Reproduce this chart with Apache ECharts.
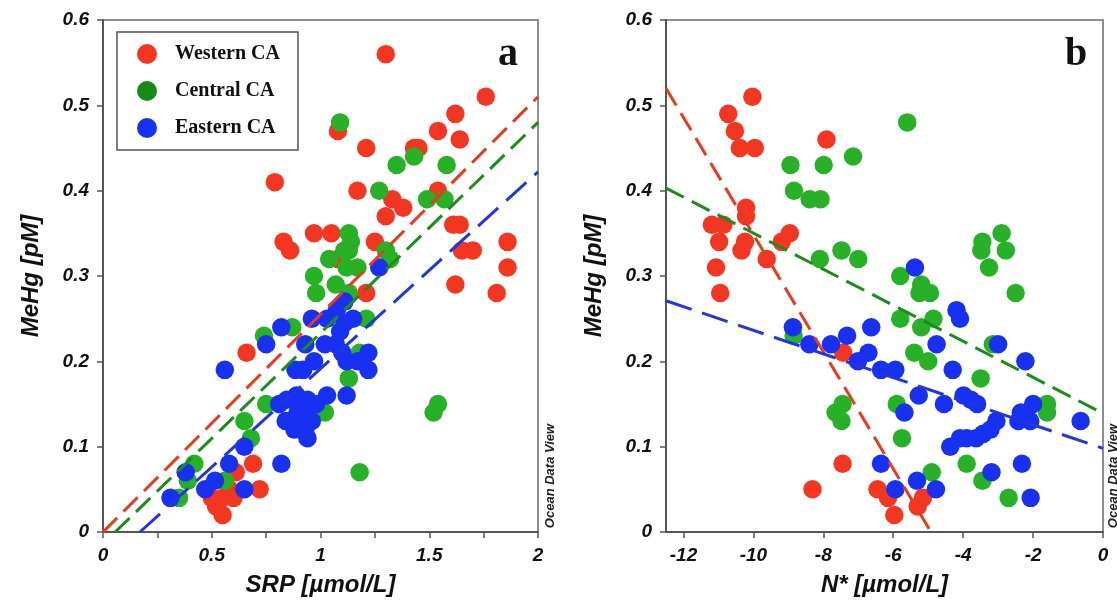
<!DOCTYPE html>
<html>
<head>
<meta charset="utf-8">
<script src="https://cdn.jsdelivr.net/npm/echarts@6/dist/echarts.min.js"></script>
<style>
  body { margin: 0; background: #fff; }
  #chart { width: 1117px; height: 602px; }
</style>
</head>
<body>
<div id="chart"></div>
<script>
// panel a: SRP vs MeHg
const westA = [[1.30,0.56],[1.76,0.51],[1.62,0.49],[1.54,0.47],[1.64,0.46],[1.21,0.45],[1.43,0.45],[1.45,0.45],
  [1.08,0.47],[0.79,0.41],[1.17,0.40],[1.54,0.40],[1.33,0.39],[1.38,0.38],[1.30,0.37],[1.61,0.36],[1.64,0.36],
  [0.97,0.35],[1.05,0.35],[0.83,0.34],[0.86,0.33],[1.25,0.34],[1.86,0.34],[1.65,0.33],[1.70,0.33],[1.86,0.31],
  [1.62,0.29],[1.81,0.28],[1.21,0.28],[1.08,0.32],
  [0.66,0.21],[0.69,0.08],[0.72,0.05],[0.50,0.04],[0.55,0.04],[0.60,0.04],[0.55,0.02],[0.61,0.07],[0.58,0.05],[0.52,0.03]];
const centA = [[1.09,0.48],[1.43,0.44],[1.35,0.43],[1.58,0.43],[1.27,0.40],[1.49,0.39],[1.57,0.39],[1.13,0.35],
  [1.14,0.34],[1.13,0.33],[1.11,0.33],[1.04,0.32],[1.12,0.31],[1.17,0.31],[1.30,0.33],[1.32,0.32],[0.97,0.30],
  [1.07,0.29],[0.98,0.28],[1.13,0.28],[1.21,0.25],[0.87,0.24],[0.74,0.23],[1.18,0.21],[1.13,0.18],[0.75,0.15],
  [1.02,0.14],[1.52,0.14],[1.54,0.15],[0.65,0.13],[0.68,0.11],[0.42,0.08],[0.39,0.06],[0.56,0.06],[1.18,0.07],[0.35,0.04]];
const eastA = [[1.27,0.31],[0.82,0.24],[0.75,0.22],[0.56,0.19],[0.96,0.25],[1.03,0.25],[1.075,0.26],[1.11,0.27],
  [1.15,0.25],[1.09,0.235],[1.11,0.245],[0.93,0.22],[0.97,0.20],[0.885,0.19],[0.92,0.19],[1.02,0.22],[1.07,0.22],
  [1.10,0.21],[1.12,0.20],[1.17,0.20],[1.22,0.21],[1.22,0.19],[1.03,0.16],[1.12,0.16],[0.81,0.15],[0.845,0.155],
  [0.89,0.16],[0.94,0.155],[0.98,0.15],[0.86,0.13],[0.91,0.13],[0.96,0.13],[0.88,0.12],[0.93,0.12],[0.94,0.11],
  [0.895,0.14],[0.92,0.14],[0.84,0.13],[0.82,0.08],[0.65,0.10],[0.58,0.08],[0.38,0.07],[0.515,0.06],[0.47,0.05],
  [0.65,0.05],[0.31,0.04]];
const fitWestA = [[0, 0], [2, 0.51]];
const fitCentA = [[0.056, 0], [2, 0.48]];
const fitEastA = [[0.17, 0], [2, 0.422]];

// panel b: N* vs MeHg
const westB = [[-10.03,0.51],[-10.72,0.49],[-10.53,0.47],[-10.39,0.45],[-9.96,0.45],[-7.91,0.46],[-10.21,0.38],
  [-10.21,0.37],[-11.19,0.36],[-10.86,0.36],[-10.98,0.34],[-10.24,0.34],[-10.34,0.33],[-8.96,0.35],[-9.19,0.34],
  [-9.62,0.32],[-11.07,0.31],[-10.95,0.28],[-7.43,0.21],[-7.45,0.08],[-8.31,0.05],[-6.45,0.05],[-6.15,0.04],
  [-5.97,0.02],[-5.30,0.03],[-5.15,0.04]];
const centB = [[-8.94,0.43],[-7.99,0.43],[-7.15,0.44],[-8.84,0.40],[-8.39,0.39],[-8.08,0.39],[-8.10,0.32],[-7.48,0.33],
  [-7.00,0.32],[-5.60,0.48],[-3.45,0.34],[-3.48,0.33],[-2.90,0.35],[-2.78,0.33],[-3.26,0.31],[-2.50,0.28],[-5.80,0.30],
  [-5.20,0.29],[-5.25,0.28],[-4.95,0.28],[-5.80,0.25],[-4.85,0.25],[-5.20,0.24],[-5.40,0.21],[-5.00,0.20],[-3.50,0.18],
  [-3.15,0.22],[-5.90,0.15],[-5.75,0.11],[-1.60,0.15],[-1.60,0.14],[-3.90,0.08],[-3.45,0.06],[-2.70,0.04],[-4.90,0.07],
  [-8.85,0.23],[-7.65,0.14],[-7.45,0.15],[-7.48,0.13]];
const eastB = [[-8.87,0.24],[-8.40,0.22],[-7.78,0.22],[-7.32,0.23],[-6.63,0.24],[-6.71,0.21],[-7.01,0.20],[-6.35,0.19],
  [-5.94,0.19],[-6.35,0.08],[-5.94,0.05],[-5.32,0.06],[-4.78,0.05],[-5.68,0.14],[-5.27,0.16],[-4.55,0.15],[-4.76,0.22],
  [-4.30,0.19],[-4.19,0.26],[-4.09,0.25],[-3.99,0.16],[-3.78,0.155],[-3.60,0.15],[-3.00,0.22],[-2.22,0.20],[-2.00,0.15],
  [-2.35,0.14],[-2.08,0.13],[-2.42,0.13],[-3.05,0.13],[-3.22,0.12],[-3.43,0.115],[-3.63,0.11],[-3.90,0.11],[-4.09,0.11],
  [-4.37,0.10],[-3.19,0.07],[-2.32,0.08],[-2.07,0.04],[-0.64,0.13],[-5.38,0.31]];
const fitWestB = [[-12.5, 0.52], [-4.92, 0]];
const fitCentB = [[-12.5, 0.403], [0, 0.139]];
const fitEastB = [[-12.5, 0.271], [0, 0.098]];

const bTicks = [-12, -10, -8, -6, -4, -2, 0];
const names = ['Western CA', 'Central CA', 'Eastern CA'];

const pointColors = ['#f43620', '#26b126', '#1830f2'];
const legendColors = ['#f43620', '#178a17', '#1830f2'];
const lineColors = ['#e83a20', '#1d8c1d', '#2236dc'];

const font = 'Liberation Sans, Arial, sans-serif';
const labelStyle = { fontFamily: font, fontWeight: 'bold', fontStyle: 'italic', fontSize: 19, color: '#111' };
const nameStyle = { fontFamily: font, fontWeight: 'bold', fontStyle: 'italic', fontSize: 24, color: '#111' };
// onZero off, otherwise panel b's y axis jumps to x = 0 (right edge)
const axisLine = { show: true, onZero: false, lineStyle: { color: '#555', width: 2 } };
const axisTick = { show: true, inside: false, length: 6, lineStyle: { color: '#555', width: 1.5 } };

function yAxis(idx) {
  return {
    type: 'value', gridIndex: idx, min: 0, max: 0.6, interval: 0.1,
    name: 'MeHg [pM]', nameLocation: 'middle', nameGap: 60, nameTextStyle: nameStyle,
    axisLine: axisLine, axisTick: axisTick, axisLabel: Object.assign({ margin: 14 }, labelStyle),
    splitLine: { show: false }
  };
}

function scatter(data, i, idx) {
  return {
    name: names[i], type: 'scatter', xAxisIndex: idx, yAxisIndex: idx, data: data,
    symbolSize: 18.5, itemStyle: { color: pointColors[i], opacity: 1 }, z: 2 + i
  };
}

function fit(data, i, idx, dash) {
  return {
    type: 'line', xAxisIndex: idx, yAxisIndex: idx, data: data, symbol: 'none', silent: true, z: 6,
    lineStyle: { color: lineColors[i], width: 3, type: dash }
  };
}

const chart = echarts.init(document.getElementById('chart'), null, { renderer: 'canvas' });

const option = {
  backgroundColor: '#fff',
  animation: false,
  grid: [
    { left: 103, top: 20, width: 435, height: 514, show: true, borderColor: '#8e8e8e', borderWidth: 2 },
    { left: 666, top: 20, width: 437, height: 514, show: true, borderColor: '#8e8e8e', borderWidth: 2 }
  ],
  xAxis: [
    {
      type: 'value', gridIndex: 0, min: 0, max: 2, interval: 0.5,
      name: 'SRP [µmol/L]', nameLocation: 'middle', nameGap: 41, nameTextStyle: nameStyle,
      axisLine: axisLine, axisTick: axisTick,
      minorTick: { show: true, splitNumber: 2, length: 6, lineStyle: { color: '#555', width: 1.5 } },
      axisLabel: Object.assign({ margin: 14 }, labelStyle), splitLine: { show: false }
    },
    {
      type: 'value', gridIndex: 1, min: -12.5, max: 0,
      name: 'N* [µmol/L]', nameLocation: 'middle', nameGap: 41, nameTextStyle: nameStyle,
      axisLine: axisLine,
      axisTick: Object.assign({ customValues: bTicks }, axisTick),
      axisLabel: Object.assign({ margin: 14, customValues: bTicks }, labelStyle),
      splitLine: { show: false }
    }
  ],
  yAxis: [yAxis(0), yAxis(1)],
  legend: {
    data: names.map((n, i) => ({ name: n, itemStyle: { color: legendColors[i] } })),
    icon: 'circle', orient: 'vertical', left: 117, top: 32,
    padding: [12, 18, 12, 20], itemWidth: 20, itemHeight: 20, itemGap: 17,
    borderColor: '#555', borderWidth: 1.5, backgroundColor: '#fff',
    textStyle: { fontFamily: 'Liberation Serif, Times New Roman, serif', fontWeight: 'bold', fontSize: 20, color: '#111', padding: [0, 0, 0, 13] },
    selectedMode: false
  },
  graphic: [
    { type: 'text', x: 508, y: 55, style: { text: 'a', font: 'bold 40px "Liberation Serif", serif', fill: '#111', textAlign: 'center', textVerticalAlign: 'middle' } },
    { type: 'text', x: 1076, y: 55, style: { text: 'b', font: 'bold 40px "Liberation Serif", serif', fill: '#111', textAlign: 'center', textVerticalAlign: 'middle' } },
    { type: 'text', x: 550, y: 476, rotation: Math.PI / 2, style: { text: 'Ocean Data View', font: 'italic bold 13px "Liberation Sans", sans-serif', fill: '#222', textAlign: 'center', textVerticalAlign: 'middle' } },
    { type: 'text', x: 1113, y: 476, rotation: Math.PI / 2, style: { text: 'Ocean Data View', font: 'italic bold 13px "Liberation Sans", sans-serif', fill: '#222', textAlign: 'center', textVerticalAlign: 'middle' } }
  ],
  series: [
    scatter(westA, 0, 0), scatter(centA, 1, 0), scatter(eastA, 2, 0),
    fit(fitWestA, 0, 0, [20, 9]), fit(fitCentA, 1, 0, [20, 9]), fit(fitEastA, 2, 0, [27, 11]),
    scatter(westB, 0, 1), scatter(centB, 1, 1), scatter(eastB, 2, 1),
    fit(fitWestB, 0, 1, [20, 9]), fit(fitCentB, 1, 1, [20, 9]), fit(fitEastB, 2, 1, [27, 11])
  ]
};

chart.setOption(option);
</script>
</body>
</html>
